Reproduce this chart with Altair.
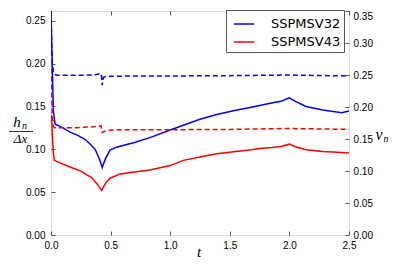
import altair as alt
import pandas as pd

# ---- data ----
series_names = ["SSPMSV32", "SSPMSV43"]
series_colors = ["#0000ff", "#ff0000"]

# h_n / dx (left axis), solid lines
t_h32 = [0.0, 0.01, 0.02, 0.034, 0.10, 0.16, 0.22, 0.285, 0.33, 0.37, 0.41, 0.43, 0.44, 0.46, 0.495,
         0.55, 0.62, 0.70, 0.83, 1.0, 1.11, 1.25, 1.39, 1.55, 1.68, 1.75, 1.85, 1.93, 1.98, 2.0, 2.05,
         2.14, 2.28, 2.44, 2.5]
h32 = [0.2614, 0.20, 0.145, 0.1295, 0.125, 0.120, 0.1165, 0.1117, 0.106, 0.100, 0.0875, 0.0788, 0.083,
       0.090, 0.099, 0.1025, 0.105, 0.108, 0.1136, 0.1225, 0.128, 0.135, 0.1405, 0.1455, 0.149, 0.151,
       0.154, 0.156, 0.159, 0.160, 0.156, 0.150, 0.1458, 0.1428, 0.1447]

t_h43 = [0.0, 0.005, 0.012, 0.02, 0.028, 0.06, 0.15, 0.25, 0.34, 0.39, 0.425, 0.44, 0.46, 0.495, 0.58,
         0.70, 0.83, 1.0, 1.11, 1.25, 1.39, 1.55, 1.68, 1.75, 1.85, 1.93, 2.0, 2.05, 2.14, 2.28, 2.44, 2.5]
h43 = [0.135, 0.14, 0.115, 0.095, 0.0871, 0.085, 0.080, 0.0745, 0.067, 0.059, 0.052, 0.056, 0.061,
       0.0663, 0.0713, 0.0735, 0.0758, 0.081, 0.0871, 0.091, 0.0947, 0.0975, 0.0995, 0.101, 0.102,
       0.1034, 0.106, 0.103, 0.0996, 0.0974, 0.0962, 0.0958]

# nu_n (right axis), dashed lines
t_n32 = [0.0, 0.005, 0.012, 0.02, 0.03, 0.05, 0.2, 0.35, 0.40, 0.42, 0.425, 0.43, 0.44, 0.46, 0.5, 0.7,
         1.0, 1.5, 2.0, 2.5]
n32 = [0.35, 0.30, 0.265, 0.255, 0.251, 0.2496, 0.2496, 0.250, 0.2515, 0.2525, 0.245, 0.234, 0.2465,
       0.2475, 0.248, 0.2485, 0.2485, 0.249, 0.250, 0.2485]

t_n43 = [0.0, 0.005, 0.01, 0.02, 0.03, 0.2, 0.35, 0.40, 0.42, 0.43, 0.44, 0.46, 0.5, 0.55, 1.0, 1.5,
         2.0, 2.5]
n43 = [0.26, 0.22, 0.19, 0.17, 0.1674, 0.1675, 0.169, 0.170, 0.1705, 0.160, 0.1615, 0.1625, 0.164,
       0.1645, 0.1645, 0.165, 0.1664, 0.165]

x_ticks = [0.0, 0.5, 1.0, 1.5, 2.0, 2.5]
left_ticks = [0.00, 0.05, 0.10, 0.15, 0.20, 0.25]
right_ticks = [0.00, 0.05, 0.10, 0.15, 0.20, 0.25, 0.30, 0.35]

W, H = 298, 224
FRAME = "#555555"

solid_df = pd.concat([
    pd.DataFrame({"t": t_h32, "h": h32, "series": series_names[0]}),
    pd.DataFrame({"t": t_h43, "h": h43, "series": series_names[1]}),
])
dash_df = pd.concat([
    pd.DataFrame({"t": t_n32, "nu": n32, "col": series_colors[0]}),
    pd.DataFrame({"t": t_n43, "nu": n43, "col": series_colors[1]}),
])

xscale = alt.Scale(domain=[0, 2.5], nice=False, zero=False)
xaxis = alt.Axis(values=x_ticks, format=".1f", title=None, labelFlush=False, labelOverlap=False,
                 ticks=False, tickSize=0, labelPadding=5, domain=False,
                 grid=True, gridColor=FRAME, gridWidth=1, gridDash=[4, H - 8, 4, 1000])

solid = alt.Chart(solid_df).mark_line(strokeWidth=1.5, clip=True).encode(
    x=alt.X("t:Q", scale=xscale, axis=xaxis),
    y=alt.Y("h:Q", scale=alt.Scale(domain=[0, 0.2614], nice=False, zero=False),
            axis=alt.Axis(values=left_ticks, format=".2f", title=None, orient="left",
                          ticks=False, tickSize=0, labelPadding=6, domain=False,
                          labelOverlap=False, labelFlush=False,
                          grid=True, gridColor=FRAME, gridWidth=1, gridDash=[4, 1000])),
    color=alt.Color("series:N", scale=alt.Scale(domain=series_names, range=series_colors),
                    legend=alt.Legend(title=None, orient="none", legendX=175, legendY=-1,
                                      fillColor="white", strokeColor=FRAME, padding=3,
                                      symbolType="stroke", symbolSize=400, symbolStrokeWidth=1.5,
                                      labelFontSize=13, labelFont="DejaVu Sans", symbolOffset=4,
                                      labelOffset=16, rowPadding=0, cornerRadius=0)),
)

one = pd.DataFrame({"a": [0]})
serif = "Liberation Serif"
lbl_h = alt.Chart(one).mark_text(text="h", font=serif, fontStyle="italic", fontSize=15,
                                 align="center", baseline="alphabetic").encode(
    x=alt.value(-34), y=alt.value(116))
lbl_hn = alt.Chart(one).mark_text(text="n", font=serif, fontStyle="italic", fontSize=10,
                                  align="center", baseline="alphabetic").encode(
    x=alt.value(-26.5), y=alt.value(118))
frac = alt.Chart(one).mark_rule(color="black", strokeWidth=0.8).encode(
    x=alt.value(-42), x2=alt.value(-18), y=alt.value(120.5))
lbl_dx = alt.Chart(one).mark_text(text="Δx", font=serif, fontStyle="italic", fontSize=13,
                                  align="center", baseline="alphabetic").encode(
    x=alt.value(-30.5), y=alt.value(132))
lbl_nu = alt.Chart(one).mark_text(text="ν", font=serif, fontStyle="italic", fontSize=16,
                                  align="center", baseline="alphabetic").encode(
    x=alt.value(W + 30), y=alt.value(128.5))
lbl_nun = alt.Chart(one).mark_text(text="n", font=serif, fontStyle="italic", fontSize=10,
                                   align="center", baseline="alphabetic").encode(
    x=alt.value(W + 37), y=alt.value(131))
lbl_t = alt.Chart(one).mark_text(text="t", font=serif, fontStyle="italic", fontSize=15,
                                 align="center", baseline="alphabetic").encode(
    x=alt.value(148), y=alt.value(H + 22))

dashed = alt.Chart(dash_df).mark_line(strokeWidth=1.5, strokeDash=[5, 3], clip=True).encode(
    x=alt.X("t:Q", scale=xscale, axis=xaxis),
    y=alt.Y("nu:Q", scale=alt.Scale(domain=[0, 0.35], nice=False, zero=False),
            axis=alt.Axis(values=right_ticks, format=".2f", title=None, orient="right",
                          ticks=False, tickSize=0, labelPadding=4, domain=False,
                          labelOverlap=False, labelFlush=False,
                          labelBaseline={"condition": {"test": "datum.value >= 0.349", "value": "top"},
                                         "value": "middle"},
                          grid=True, gridColor=FRAME, gridWidth=1, gridDash=[4, 1000])),
    color=alt.Color("col:N", scale=None),
)

left = alt.layer(solid, lbl_h, lbl_hn, frac, lbl_dx, lbl_nu, lbl_nun, lbl_t)
chart = alt.layer(left, dashed).resolve_scale(y="independent").properties(
    width=W, height=H,
    autosize=alt.AutoSizeParams(type="none"),
    padding={"left": 43, "top": 3, "right": 41, "bottom": 26},
).configure_view(stroke=FRAME, strokeWidth=1).configure_axis(
    labelFont="DejaVu Sans", labelFontSize=8.5, labelColor="black"
).configure(background="white")

chart.save("out.html", embed_options={"renderer": "svg", "actions": False})
